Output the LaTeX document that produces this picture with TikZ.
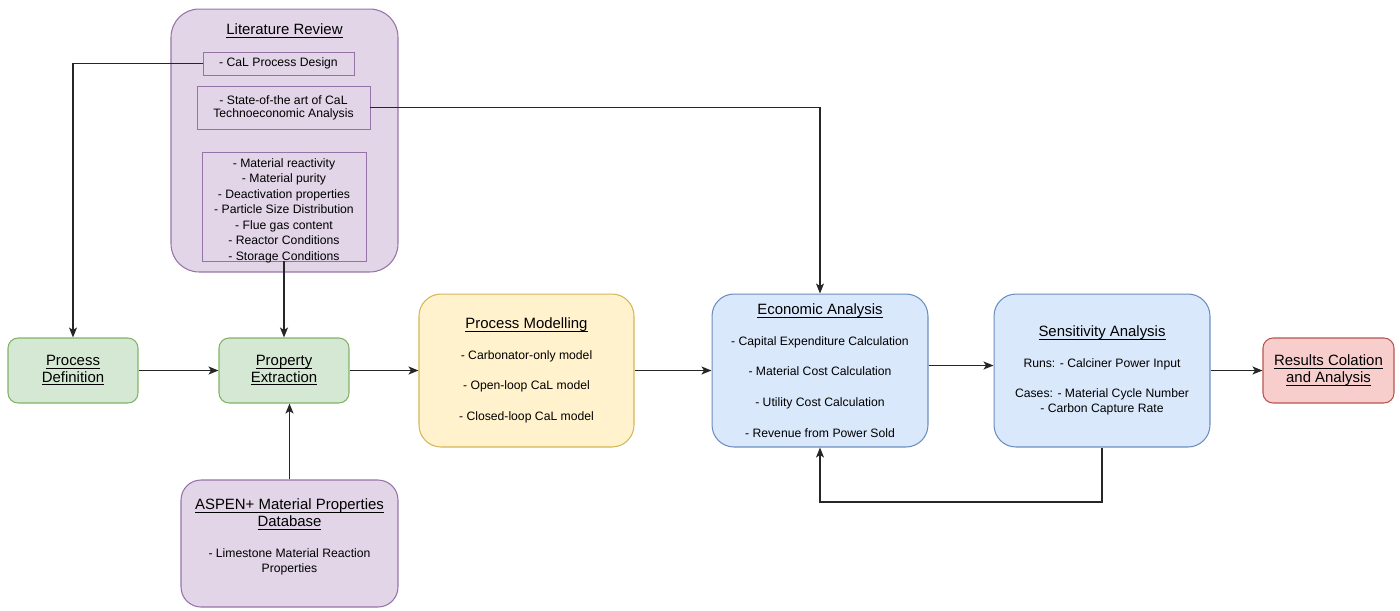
\documentclass[tikz,border=0pt]{standalone}
\usepackage{fontspec}
\setmainfont{Liberation Sans}
\usetikzlibrary{arrows.meta}

\definecolor{purplefill}{HTML}{E1D5E7}
\definecolor{purpleline}{HTML}{9673A6}
\definecolor{greenfill}{HTML}{D5E8D4}
\definecolor{greenline}{HTML}{82B366}
\definecolor{yellowfill}{HTML}{FFF2CC}
\definecolor{yellowline}{HTML}{D6B656}
\definecolor{bluefill}{HTML}{DAE8FC}
\definecolor{blueline}{HTML}{6C8EBF}
\definecolor{redfill}{HTML}{F8CECC}
\definecolor{redline}{HTML}{B85450}
\definecolor{linkcol}{HTML}{262626}

\newcommand{\undl}[1]{\underline{\raisebox{0pt}[\height][0pt]{#1}}}
\newcommand{\titlefont}{\fontsize{8.5}{9.67}\selectfont}

\begin{document}
\begin{tikzpicture}[x=0.02cm,y=-0.02cm,
    every node/.style={inner sep=0pt, align=center, font=\fontsize{6.94}{8.65}\selectfont},
    box/.style={draw, line width=0.6pt},
    greenbox/.style={box, draw=greenline, fill=greenfill, rounded corners=0.2cm,
        minimum width=2.6cm, minimum height=1.3cm, font=\titlefont},
    redbox/.style={box, draw=redline, fill=redfill, rounded corners=0.2cm,
        minimum width=2.62cm, minimum height=1.3cm, font=\titlefont},
    purplebox/.style={box, draw=purpleline, fill=purplefill},
    subbox/.style={draw=purpleline, line width=0.5pt},
    yellowbox/.style={box, draw=yellowline, fill=yellowfill, rounded corners=0.44cm,
        minimum width=4.3cm, minimum height=3.06cm},
    bluebox/.style={box, draw=blueline, fill=bluefill, rounded corners=0.44cm,
        minimum width=4.32cm, minimum height=3.06cm},
    link/.style={draw=linkcol, line width=0.75pt,
        -{Stealth[length=0.2cm, width=0.16cm, inset=0.05cm]}}
]
\useasboundingbox (0,0) rectangle (1400,610);

% literature review
\node[purplebox, rounded corners=0.56cm, minimum width=4.54cm, minimum height=5.26cm] (litrev) at (284.5,140.5) {};
\node[font=\titlefont] (littitle) at (284.5,31) {\undl{Literature Review}};
\node[subbox, minimum width=3.02cm, minimum height=0.46cm] (caldesign) at (278.5,63.5) {- CaL Process Design};
\node[subbox, minimum width=3.46cm, minimum height=0.86cm] (stateart) at (283.5,107.5)
    {- State-of-the art of CaL\\[-1.2pt]Technoeconomic Analysis};
\node[subbox, minimum width=3.28cm, minimum height=2.18cm] (matprops) at (284,206.5) {};
\node[font=\fontsize{6.94}{8.8}\selectfont] (matlist) at (284,210.5)
    {- Material reactivity\\ - Material purity\\ - Deactivation properties\\
     - Particle Size Distribution\\ - Flue gas content\\ - Reactor Conditions\\
     - Storage Conditions};

% main chain
\node[greenbox] (procdef) at (73,370.5) {\undl{Process}\\\undl{Definition}};
\node[greenbox] (propext) at (284,370.5) {\undl{Property}\\\undl{Extraction}};
\node[yellowbox] (procmod) at (526.5,370.5)
    {{\titlefont\undl{Process Modelling}}\\[8.8pt]
     - Carbonator-only model\\[8.8pt]
     - Open-loop CaL model\\[8.8pt]
     - Closed-loop CaL model};
\node[bluebox] (econ) at (820,370.5)
    {{\titlefont\undl{Economic Analysis}}\\[8.8pt]
     - Capital Expenditure Calculation\\[8.8pt]
     - Material Cost Calculation\\[8.8pt]
     - Utility Cost Calculation\\[8.8pt]
     - Revenue from Power Sold};
\node[bluebox] (sens) at (1102,370.5)
    {{\titlefont\undl{Sensitivity Analysis}}\\[8.8pt]
     Runs: - Calciner Power Input\\[8.8pt]
     Cases: - Material Cycle Number\\
     - Carbon Capture Rate};
\node[redbox] (results) at (1328.5,370.5) {\undl{Results Colation}\\\undl{and Analysis}};

% database
\node[purplebox, rounded corners=0.4cm, minimum width=4.34cm, minimum height=2.54cm] (aspen) at (289.5,543.5) {};
\node (aspentext) at (289.5,537)
    {{\titlefont\undl{ASPEN+ Material Properties}}\\[1pt]
     {\titlefont\undl{Database}}\\[8.8pt]
     - Limestone Material Reaction\\ Properties};

% connectors
\coordinate (loopcorner) at (1102,502);
\draw[link] (caldesign.west) -| (procdef.north);
\draw[link] (stateart.east) -| (econ.north);
\draw[link] (matprops.south) -- (propext.north);
\draw[link] (aspen.north) -- (aspen.north |- propext.south);
\draw[link] (procdef) -- (propext);
\draw[link] (propext) -- (procmod);
\draw[link] (procmod) -- (econ);
\draw[link] ([yshift=0.1cm]econ.east) -- ([yshift=0.1cm]sens.west);
\draw[link] (sens) -- (results);
\draw[link] (sens.south) -- (loopcorner) -| (econ.south);
\end{tikzpicture}
\end{document}
